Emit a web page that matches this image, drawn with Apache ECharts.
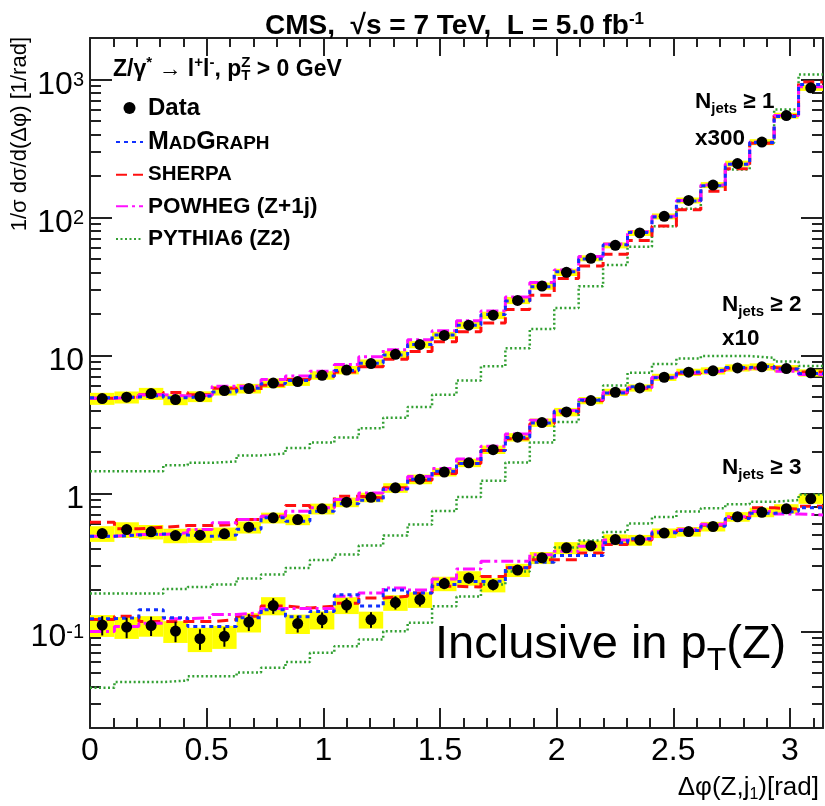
<!DOCTYPE html>
<html>
<head>
<meta charset="utf-8">
<script src="https://cdn.jsdelivr.net/npm/echarts@6/dist/echarts.min.js"></script>
<style>
  html, body { margin: 0; padding: 0; background: #fff; }
  #chart { width: 825px; height: 806px; }
</style>
</head>
<body>
<div id="chart"></div>
<script>
const FONT = '"Liberation Sans", Arial, Helvetica, sans-serif';

// Δφ(Z, j1): 30 equal bins between 0 and π
const N_BINS = 30;
const PHI_MAX = Math.PI;

// Axis tick labels
const xTickLabels = [0, 0.5, 1, 1.5, 2, 2.5, 3];
const yTickLabels = [0.1, 1, 10, 100, 1000];

// ---- N_jets >= 1 (scaled x300) ----
const data1 = [4.88, 4.99, 5.30, 4.80, 5.05, 5.58, 5.77, 6.32, 6.48, 7.19, 7.85, 8.75, 10.2, 12.0, 14.0, 16.6, 19.6, 25.1, 31.9, 40.1, 50.7, 62.9, 77.4, 102, 133, 172, 246, 352, 548, 871];
const stat1 = [0.03, 0.03, 0.03, 0.03, 0.03, 0.03, 0.03, 0.03, 0.03, 0.03, 0.025, 0.025, 0.025, 0.025, 0.02, 0.02, 0.02, 0.02, 0.02, 0.02, 0.015, 0.015, 0.015, 0.015, 0.015, 0.015, 0.01, 0.01, 0.01, 0.01];
const sys1 = [0.10, 0.10, 0.10, 0.09, 0.09, 0.08, 0.08, 0.08, 0.07, 0.07, 0.07, 0.07, 0.06, 0.06, 0.06, 0.06, 0.06, 0.06, 0.06, 0.06, 0.05, 0.05, 0.05, 0.05, 0.05, 0.05, 0.05, 0.05, 0.05, 0.05];
const madgraph1 = [4.95, 5.0, 5.15, 4.95, 5.1, 5.45, 5.8, 6.25, 6.6, 7.1, 7.8, 8.8, 10.1, 12.0, 14.1, 16.6, 19.8, 24.8, 31.5, 40.5, 50.0, 63.5, 78, 101, 132, 170, 243, 350, 540, 920];
const sherpa1 = [4.9, 5.0, 5.2, 5.4, 5.2, 5.8, 5.6, 6.1, 6.7, 7.05, 7.6, 8.3, 9.4, 10.7, 12.6, 14.9, 17.2, 21.6, 27.4, 36.1, 44.6, 54.1, 68.1, 86.7, 114, 155, 226, 345, 548, 958];
const powheg1 = [4.9, 5.0, 5.2, 5.1, 5.15, 6.0, 6.0, 6.7, 7.1, 7.7, 8.6, 9.8, 11.0, 13.0, 15.1, 17.9, 21.0, 26.6, 33.8, 41.7, 52.2, 64.2, 79, 102, 133, 172, 244, 352, 548, 888];
const pythia1 = [1.45, 1.45, 1.45, 1.60, 1.67, 1.71, 1.89, 1.95, 2.14, 2.34, 2.55, 2.97, 3.54, 4.24, 5.20, 6.59, 8.36, 11.3, 15.6, 22.1, 31.8, 45.3, 61.3, 86.5, 116, 169, 223, 348, 606, 1087];

// ---- N_jets >= 2 (scaled x10) ----
const data2 = [0.513, 0.548, 0.528, 0.496, 0.499, 0.511, 0.570, 0.667, 0.648, 0.775, 0.866, 0.939, 1.10, 1.27, 1.43, 1.67, 2.08, 2.56, 3.27, 3.90, 4.72, 5.42, 5.83, 6.96, 7.57, 7.75, 8.14, 8.28, 8.05, 7.49];
const stat2 = [0.05, 0.05, 0.05, 0.05, 0.05, 0.05, 0.05, 0.045, 0.045, 0.045, 0.04, 0.04, 0.04, 0.035, 0.035, 0.03, 0.03, 0.03, 0.03, 0.025, 0.025, 0.025, 0.025, 0.02, 0.02, 0.02, 0.02, 0.02, 0.02, 0.02];
const sys2 = [0.13, 0.13, 0.12, 0.12, 0.12, 0.11, 0.10, 0.09, 0.09, 0.09, 0.08, 0.08, 0.08, 0.08, 0.07, 0.07, 0.07, 0.07, 0.07, 0.07, 0.06, 0.06, 0.06, 0.06, 0.06, 0.06, 0.06, 0.06, 0.06, 0.06];
const madgraph2 = [0.49, 0.50, 0.51, 0.50, 0.49, 0.50, 0.55, 0.667, 0.63, 0.744, 0.842, 0.894, 1.08, 1.27, 1.45, 1.65, 2.05, 2.55, 3.25, 3.95, 4.75, 5.35, 5.95, 6.9, 7.6, 7.85, 8.2, 8.35, 8.0, 7.4];
const sherpa2 = [0.62, 0.555, 0.57, 0.586, 0.586, 0.596, 0.648, 0.685, 0.82, 0.788, 0.956, 0.93, 1.10, 1.25, 1.40, 1.65, 2.05, 2.50, 3.20, 3.85, 4.70, 5.35, 5.80, 6.90, 7.45, 7.80, 8.10, 8.20, 7.95, 7.60];
const powheg2 = [0.49, 0.504, 0.504, 0.519, 0.548, 0.613, 0.648, 0.685, 0.744, 0.788, 0.905, 1.01, 1.07, 1.33, 1.52, 1.78, 2.20, 2.70, 3.40, 4.00, 4.80, 5.45, 5.85, 6.95, 7.50, 7.70, 8.00, 8.10, 7.70, 7.30];
const pythia2 = [0.189, 0.189, 0.189, 0.203, 0.210, 0.219, 0.242, 0.259, 0.289, 0.330, 0.361, 0.420, 0.496, 0.596, 0.747, 0.943, 1.24, 1.68, 2.34, 3.30, 4.80, 6.06, 7.49, 8.68, 9.51, 9.92, 9.92, 9.62, 9.05, 8.39];

// ---- N_jets >= 3 ----
const data3 = [0.1115, 0.1078, 0.1105, 0.1008, 0.0887, 0.0924, 0.1172, 0.1543, 0.1143, 0.1218, 0.1556, 0.1222, 0.1623, 0.1705, 0.2228, 0.2442, 0.2184, 0.279, 0.3425, 0.404, 0.418, 0.464, 0.460, 0.517, 0.530, 0.577, 0.679, 0.732, 0.775, 0.915];
const stat3 = [0.16, 0.17, 0.16, 0.17, 0.17, 0.16, 0.14, 0.13, 0.14, 0.13, 0.12, 0.13, 0.11, 0.11, 0.09, 0.09, 0.09, 0.08, 0.07, 0.07, 0.06, 0.06, 0.06, 0.05, 0.05, 0.05, 0.05, 0.04, 0.04, 0.04];
const sys3 = [0.18, 0.18, 0.17, 0.18, 0.20, 0.19, 0.16, 0.15, 0.16, 0.15, 0.14, 0.14, 0.13, 0.13, 0.12, 0.12, 0.12, 0.11, 0.10, 0.10, 0.09, 0.09, 0.09, 0.08, 0.08, 0.08, 0.08, 0.08, 0.08, 0.08];
const madgraph3 = [0.124, 0.126, 0.144, 0.126, 0.109, 0.109, 0.126, 0.144, 0.128, 0.14, 0.185, 0.153, 0.20, 0.19, 0.219, 0.23, 0.232, 0.29, 0.318, 0.355, 0.355, 0.44, 0.47, 0.52, 0.54, 0.58, 0.66, 0.72, 0.744, 0.79];
const sherpa3 = [0.122, 0.129, 0.118, 0.118, 0.118, 0.122, 0.129, 0.153, 0.148, 0.153, 0.16, 0.175, 0.18, 0.19, 0.213, 0.21, 0.251, 0.29, 0.332, 0.332, 0.371, 0.427, 0.46, 0.52, 0.54, 0.59, 0.67, 0.788, 0.77, 0.81];
const powheg3 = [0.10, 0.109, 0.115, 0.124, 0.126, 0.133, 0.137, 0.147, 0.147, 0.147, 0.18, 0.19, 0.207, 0.20, 0.24, 0.284, 0.323, 0.323, 0.36, 0.381, 0.415, 0.46, 0.47, 0.53, 0.55, 0.60, 0.68, 0.74, 0.71, 0.70];
const pythia3 = [0.0391, 0.0431, 0.0431, 0.0441, 0.0474, 0.0474, 0.0505, 0.0546, 0.0601, 0.0701, 0.0782, 0.0875, 0.1005, 0.1156, 0.1525, 0.1793, 0.2191, 0.2721, 0.3437, 0.4062, 0.4565, 0.526, 0.606, 0.676, 0.741, 0.783, 0.837, 0.872, 0.897, 0.983];

// ---------------------------------------------------------------
const binWidth = PHI_MAX / N_BINS;
const edges = Array.from({ length: N_BINS + 1 }, (_, i) => i * binWidth);
const centers = Array.from({ length: N_BINS }, (_, i) => (i + 0.5) * binWidth);

// tick positions: majors labelled, minors unlabelled
const xMinor = [];
for (let k = 1; k * 0.1 < PHI_MAX; k++) if (k % 5 !== 0) xMinor.push(+(k * 0.1).toFixed(2));
const Y_MIN = 0.02, Y_MAX = 2000;
const yMinor = [];
for (let d = -2; d <= 3; d++) for (let m = 2; m <= 9; m++) {
  const v = +(m * Math.pow(10, d)).toPrecision(3);
  if (v > Y_MIN && v < Y_MAX) yMinor.push(v);
}

const COLORS = { madgraph: '#1030ff', sherpa: '#ff1010', powheg: '#ff10ff', pythia: '#33a033', band: '#ffff00' };
const LINE = {
  madgraph: { color: COLORS.madgraph, width: 3, type: [4, 4] },
  sherpa:   { color: COLORS.sherpa,   width: 3, type: [11, 6] },
  powheg:   { color: COLORS.powheg,   width: 3, type: [12, 4, 3, 4] },
  pythia:   { color: COLORS.pythia,   width: 2.5, type: [2, 2.5] }
};
const NAMES = { data: 'Data', madgraph: 'MadGraph', sherpa: 'SHERPA', powheg: 'POWHEG (Z+1j)', pythia: 'PYTHIA6 (Z2)' };

function stepData(vals) {
  return edges.map((e, i) => [e, vals[Math.min(i, vals.length - 1)]]);
}
function histSeries(key, vals, z) {
  return {
    type: 'line', name: NAMES[key], step: 'end', data: stepData(vals),
    symbol: 'none', showSymbol: false, lineStyle: LINE[key], itemStyle: { color: LINE[key].color },
    z: z, silent: true
  };
}
function bandSeries(vals, rel) {
  return {
    type: 'custom', name: 'syst', z: 1, silent: true,
    data: vals.map((v, i) => [edges[i], edges[i + 1], v * (1 - rel[i]), v * (1 + rel[i])]),
    encode: { x: [0, 1], y: [2, 3] },
    renderItem: (params, api) => {
      const a = api.coord([api.value(0), api.value(3)]);
      const b = api.coord([api.value(1), api.value(2)]);
      return { type: 'rect', shape: { x: a[0], y: a[1], width: b[0] - a[0], height: b[1] - a[1] },
               style: { fill: COLORS.band } };
    }
  };
}
function errSeries(vals, rel) {
  return {
    type: 'custom', name: 'stat', z: 8, silent: true,
    data: vals.map((v, i) => [centers[i], v * (1 - rel[i]), v * (1 + rel[i])]),
    encode: { x: 0, y: [1, 2] },
    renderItem: (params, api) => {
      const lo = api.coord([api.value(0), api.value(1)]);
      const hi = api.coord([api.value(0), api.value(2)]);
      return { type: 'line', shape: { x1: lo[0], y1: lo[1], x2: hi[0], y2: hi[1] },
               style: { stroke: '#000', lineWidth: 2 } };
    }
  };
}
function pointSeries(vals) {
  return {
    type: 'scatter', name: NAMES.data, z: 10, silent: true,
    data: vals.map((v, i) => [centers[i], v]),
    symbol: 'circle', symbolSize: 11, itemStyle: { color: '#000', opacity: 1 }
  };
}

const groups = [
  { d: data1, st: stat1, sy: sys1, mg: madgraph1, sh: sherpa1, pw: powheg1, py: pythia1 },
  { d: data2, st: stat2, sy: sys2, mg: madgraph2, sh: sherpa2, pw: powheg2, py: pythia2 },
  { d: data3, st: stat3, sy: sys3, mg: madgraph3, sh: sherpa3, pw: powheg3, py: pythia3 }
];

const series = [];
groups.forEach(g => series.push(pointSeries(g.d)));
groups.forEach(g => {
  series.push(bandSeries(g.d, g.sy));
  series.push(histSeries('pythia', g.py, 2));
  series.push(histSeries('sherpa', g.sh, 3));
  series.push(histSeries('powheg', g.pw, 4));
  series.push(histSeries('madgraph', g.mg, 5));
  series.push(errSeries(g.d, g.st));
});

// ---------------------------------------------------------------
const AX = '#222';
function xAxisDef(pos, ticks, len, labels, line) {
  return {
    type: 'value', min: 0, max: PHI_MAX, position: pos,
    axisLine: { show: line, onZero: false, lineStyle: { color: AX, width: 2 } },
    splitLine: { show: false },
    axisTick: { show: true, inside: true, length: len, customValues: ticks, lineStyle: { color: AX, width: 2 } },
    axisLabel: labels ? {
      show: true, customValues: labels, margin: 7, color: '#000', fontSize: 32, fontFamily: FONT,
      formatter: v => String(v)
    } : { show: false }
  };
}
function yAxisDef(pos, ticks, len, labels, line) {
  return {
    type: 'log', logBase: 10, min: Y_MIN, max: Y_MAX, position: pos,
    axisLine: { show: line, onZero: false, lineStyle: { color: AX, width: 2 } },
    splitLine: { show: false }, minorTick: { show: false },
    axisTick: { show: true, inside: true, length: len, customValues: ticks, lineStyle: { color: AX, width: 2 } },
    axisLabel: labels ? {
      show: true, customValues: labels, margin: 6, color: '#000', fontFamily: FONT,
      formatter: v => {
        const p = Math.round(Math.log10(v));
        if (p === 0) return '{b|1}';
        if (p === 1) return '{b|10}';
        return '{b|10}{s|' + p + '}';
      },
      rich: {
        b: { fontSize: 32, fontFamily: FONT, color: '#000', padding: [12, 0, 0, 0] },
        s: { fontSize: 20, fontFamily: FONT, color: '#000', padding: [2, 0, 0, 0] }
      }
    } : { show: false }
  };
}

// Measure text so the stacked p_T^Z indices can share one x position
const measureCtx = document.createElement('canvas').getContext('2d');
function textW(str, size) {
  measureCtx.font = 'bold ' + size + 'px ' + FONT;
  return measureCtx.measureText(str).width;
}
const HDR = 23, HDR_S = 15;
const hdrX = 113, hdrY = 70;
const zSupX = hdrX + textW('Z/γ', HDR) + textW('*', HDR_S) + textW(' → l', HDR) + textW('+', HDR_S)
            + textW('l', HDR) + textW('-', HDR_S) + textW(', p', HDR);

const bold = { fontFamily: FONT, fontWeight: 'bold', color: '#000' };
function njetsText(x, y, n) {
  return {
    type: 'text', x: x, y: y, silent: true,
    style: {
      text: '{n|N}{j|jets}{n| ≥ ' + n + '}',
      align: 'left', verticalAlign: 'middle',
      rich: {
        n: Object.assign({ fontSize: 22.5 }, bold),
        j: Object.assign({ fontSize: 15, padding: [14, 0, 0, 0] }, bold)
      }
    }
  };
}
function plainBold(x, y, str, size) {
  return { type: 'text', x: x, y: y, silent: true,
    style: Object.assign({ text: str, fontSize: size, align: 'left', verticalAlign: 'middle' }, bold) };
}
const hideSymbol = { opacity: 0, color: 'rgba(0,0,0,0)', borderWidth: 0 };

const option = {
  animation: false,
  backgroundColor: '#fff',
  grid: { left: 90, right: 2, top: 38, bottom: 78, containLabel: false, outerBoundsMode: 'none' },
  title: {
    text: '{m|CMS,  √s = 7 TeV,  L = 5.0 fb}{s|-1}',
    left: 265, top: 11, padding: 0,
    textStyle: {
      rich: {
        m: Object.assign({ fontSize: 28 }, bold),
        s: Object.assign({ fontSize: 17, padding: [0, 0, 14, 0] }, bold)
      }
    }
  },
  legend: {
    data: [
      { name: NAMES.data },
      { name: NAMES.madgraph, itemStyle: hideSymbol },
      { name: NAMES.sherpa, itemStyle: hideSymbol },
      { name: NAMES.powheg, itemStyle: hideSymbol },
      { name: NAMES.pythia, itemStyle: hideSymbol }
    ],
    orient: 'vertical', left: 115, top: 96, padding: 0,
    itemWidth: 27, itemHeight: 12, itemGap: 9.6, selectedMode: false,
    formatter: name => ({
      'Data': '{d|Data}',
      'MadGraph': '{c|M}{sc|AD}{c|G}{sc|RAPH}',
      'SHERPA': '{t|SHERPA}',
      'POWHEG (Z+1j)': '{u|POWHEG (Z+1j)}',
      'PYTHIA6 (Z2)': '{u|PYTHIA6 (Z2)}'
    })[name],
    textStyle: {
      fontFamily: FONT, fontWeight: 'bold', color: '#000',
      rich: {
        d: Object.assign({ fontSize: 24, lineHeight: 24 }, bold),
        c: Object.assign({ fontSize: 25, lineHeight: 24 }, bold),
        sc: Object.assign({ fontSize: 19, lineHeight: 20, padding: [4, 0, 0, 0] }, bold),
        t: Object.assign({ fontSize: 20.5, lineHeight: 24 }, bold),
        u: Object.assign({ fontSize: 22.5, lineHeight: 24 }, bold)
      }
    }
  },
  xAxis: [
    xAxisDef('bottom', xTickLabels, 20, xTickLabels, true),
    xAxisDef('bottom', xMinor, 10, null, false),
    xAxisDef('top', xTickLabels, 18, null, true),
    xAxisDef('top', xMinor, 9, null, false)
  ],
  yAxis: [
    yAxisDef('left', yTickLabels, 22, yTickLabels, true),
    yAxisDef('left', yMinor, 11, null, false),
    yAxisDef('right', yTickLabels, 22, null, true),
    yAxisDef('right', yMinor, 11, null, false)
  ],
  series: series,
  graphic: [
    {
      type: 'text', x: hdrX, y: hdrY, silent: true,
      style: {
        text: '{n|Z/γ}{u|*}{n| → l}{u|+}{n|l}{u|-}{n|, p}{t|T}{n| > 0 GeV}',
        align: 'left', verticalAlign: 'middle',
        rich: {
          n: Object.assign({ fontSize: HDR }, bold),
          u: Object.assign({ fontSize: HDR_S, padding: [0, 0, 14, 0] }, bold),
          t: Object.assign({ fontSize: HDR_S, padding: [12, 0, 0, 0] }, bold)
        }
      }
    },
    {
      type: 'text', x: zSupX, y: hdrY - 7, silent: true,
      style: Object.assign({ text: 'Z', fontSize: HDR_S, align: 'left', verticalAlign: 'middle' }, bold)
    },
    njetsText(695, 102, 1),
    plainBold(695, 139, 'x300', 22.5),
    njetsText(722, 305, 2),
    plainBold(722, 339, 'x10', 22.5),
    njetsText(722, 468, 3),
    {
      type: 'text', x: 435, y: 645, silent: true,
      style: {
        text: '{m|Inclusive in p}{s|T}{m|(Z)}',
        align: 'left', verticalAlign: 'middle',
        rich: {
          m: { fontSize: 47, fontFamily: FONT, color: '#000' },
          s: { fontSize: 32, fontFamily: FONT, color: '#000', padding: [32, 0, 0, 0] }
        }
      }
    },
    {
      type: 'text', x: 819, y: 788, silent: true,
      style: {
        text: '{m|Δφ(Z,j}{s|1}{m|)[rad]}',
        align: 'right', verticalAlign: 'middle',
        rich: {
          m: { fontSize: 26, fontFamily: FONT, color: '#000' },
          s: { fontSize: 16, fontFamily: FONT, color: '#000', padding: [14, 0, 0, 0] }
        }
      }
    },
    {
      type: 'text', x: 20, y: 37, rotation: Math.PI / 2, silent: true,
      style: {
        text: '1/σ dσ/d(Δφ) [1/rad]', fontSize: 22, fontFamily: FONT, fill: '#000',
        align: 'right', verticalAlign: 'middle'
      }
    }
  ]
};

const chart = echarts.init(document.getElementById('chart'), null, { renderer: 'canvas' });
chart.setOption(option);
</script>
</body>
</html>
